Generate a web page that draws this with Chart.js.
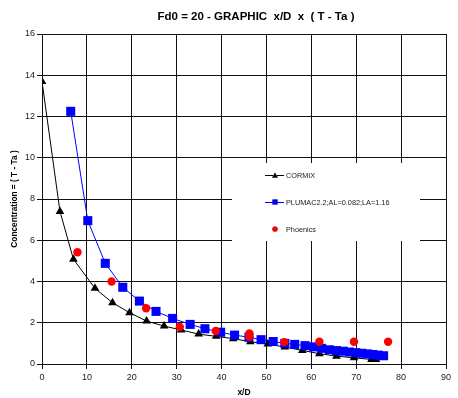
<!DOCTYPE html>
<html>
<head>
<meta charset="utf-8">
<script src="https://cdn.jsdelivr.net/npm/chart.js@4.4.0/dist/chart.umd.min.js"></script>
<style>
html, body { margin: 0; padding: 0; background: #fff; }
</style>
</head>
<body>
<canvas id="chart" width="458" height="398"></canvas>
<script>
// Values
const cormixX = [0, 4.0, 7.0, 11.8, 15.7, 19.5, 23.3, 27.2, 31.0, 34.9, 38.8, 42.6, 46.4, 50.3, 54.1, 58.0, 61.8, 65.6, 69.5, 73.4, 74.4];
const cormixY = [13.7, 7.4, 5.08, 3.67, 2.97, 2.49, 2.08, 1.84, 1.65, 1.45, 1.34, 1.23, 1.08, 0.97, 0.82, 0.66, 0.5, 0.38, 0.3, 0.22, 0.22];

const plumacX = [6.4, 10.2, 14.1, 18.0, 21.7, 25.4, 29.1, 33.0, 36.3, 39.8, 42.9, 46.1, 48.8, 51.5, 54.1, 56.3, 58.6, 60.5, 62.3, 64.0, 65.6, 67.1, 68.5, 69.9, 71.2, 72.5, 73.7, 74.9, 76.1];
const plumacY = [12.25, 6.95, 4.88, 3.72, 3.05, 2.55, 2.21, 1.92, 1.71, 1.54, 1.40, 1.30, 1.18, 1.09, 1.0, 0.95, 0.89, 0.83, 0.76, 0.69, 0.65, 0.62, 0.58, 0.55, 0.52, 0.49, 0.46, 0.43, 0.40];

const phoenicsX = [7.9, 15.5, 23.2, 30.7, 38.7, 46.2, 46.2, 54.0, 61.8, 69.5, 77.1];
const phoenicsY = [5.42, 4.0, 2.7, 1.8, 1.6, 1.48, 1.32, 1.06, 1.08, 1.08, 1.08];

const seriesNames = ['CORMIX', 'PLUMAC2.2;AL=0.082;LA=1.16', 'Phoenics'];
const chartTitle = 'Fd0 = 20 - GRAPHIC  x/D  x  ( T - Ta )';
const xTitle = 'x/D';
const yTitle = 'Concentration = ( T - Ta )';

function toPoints(xs, ys) {
    return xs.map((x, i) => ({ x: x, y: ys[i] }));
}

const FONT = '"Liberation Sans", Arial, sans-serif';
const GRID = '#111';

// Title drawn a bit right of centre, like the original
const titlePlugin = {
    id: 'titleText',
    afterDraw(chart) {
        const ctx = chart.ctx;
        ctx.save();
        ctx.font = 'bold 11.5px ' + FONT;
        ctx.fillStyle = '#000';
        ctx.textAlign = 'center';
        ctx.textBaseline = 'middle';
        ctx.fillText(chartTitle, 256, 17);
        ctx.restore();
    }
};

// Legend box sitting inside the plot area
const legendPlugin = {
    id: 'boxLegend',
    afterDraw(chart) {
        const ctx = chart.ctx;
        ctx.save();
        ctx.fillStyle = '#fff';
        ctx.fillRect(232, 163, 188, 78);
        const rows = [175, 202, 229];
        chart.data.datasets.forEach((ds, i) => {
            const y = rows[i];
            if (ds.showLine) {
                ctx.strokeStyle = ds.borderColor;
                ctx.lineWidth = 1;
                ctx.beginPath();
                ctx.moveTo(265, y + 0.5);
                ctx.lineTo(284, y + 0.5);
                ctx.stroke();
            }
            Chart.helpers.drawPoint(ctx, {
                pointStyle: ds.pointStyle,
                radius: ds.pointStyle === 'rect' ? 3.5 : (ds.pointStyle === 'triangle' ? 3.5 : 2.6),
                borderWidth: 0
            }, 275, y + (ds.pointStyle === 'triangle' ? 1 : 0));
            ctx.fillStyle = ds.pointBackgroundColor;
            ctx.fill();
            ctx.fillStyle = '#222';
            ctx.font = '7.3px ' + FONT;
            ctx.textAlign = 'left';
            ctx.textBaseline = 'middle';
            ctx.fillText(ds.label, 286, y + 0.5);
        });
        ctx.restore();
    }
};

new Chart(document.getElementById('chart'), {
    type: 'scatter',
    data: {
        datasets: [
            {
                label: seriesNames[0],
                data: toPoints(cormixX, cormixY),
                showLine: true,
                borderColor: '#000',
                borderWidth: 1,
                pointStyle: 'triangle',
                pointRadius: 5,
                pointBackgroundColor: '#000',
                pointBorderColor: '#000',
                pointBorderWidth: 0,
                order: 3
            },
            {
                label: seriesNames[1],
                data: toPoints(plumacX, plumacY),
                showLine: true,
                borderColor: '#0000ff',
                borderWidth: 1,
                pointStyle: 'rect',
                pointRadius: 6.4,
                pointBackgroundColor: '#0000ff',
                pointBorderColor: '#0000ff',
                pointBorderWidth: 0,
                order: 2
            },
            {
                label: seriesNames[2],
                data: toPoints(phoenicsX, phoenicsY),
                showLine: false,
                pointStyle: 'circle',
                pointRadius: 4.2,
                pointBackgroundColor: '#ff0000',
                pointBorderColor: '#ff0000',
                pointBorderWidth: 0,
                order: 1
            }
        ]
    },
    options: {
        responsive: false,
        devicePixelRatio: 1,
        animation: false,
        layout: { padding: { top: 34, right: 12, left: 0, bottom: 0 } },
        plugins: {
            legend: { display: false },
            tooltip: { enabled: false },
            title: { display: false }
        },
        scales: {
            x: {
                type: 'linear',
                min: 0,
                max: 90,
                ticks: { stepSize: 10, color: '#222', padding: 3, font: { family: FONT, size: 9 } },
                grid: { color: GRID, lineWidth: 1, tickLength: 5, tickColor: GRID },
                border: { color: GRID, width: 1 },
                title: { display: true, text: xTitle, color: '#000', font: { family: FONT, size: 8.5, weight: 'bold' }, padding: { top: 0, bottom: 0.5 } },
                afterFit: s => { s.height = 34; }
            },
            y: {
                type: 'linear',
                min: 0,
                max: 16,
                ticks: { stepSize: 2, color: '#222', padding: 2, font: { family: FONT, size: 9 } },
                grid: { color: GRID, lineWidth: 1, tickLength: 5, tickColor: GRID },
                border: { color: GRID, width: 1 },
                title: { display: true, text: yTitle, color: '#000', font: { family: FONT, size: 8.3, weight: 'bold' }, padding: { top: 9.5, bottom: 0 } },
                afterFit: s => { s.width = 42; }
            }
        }
    },
    plugins: [titlePlugin, legendPlugin]
});
</script>
</body>
</html>
